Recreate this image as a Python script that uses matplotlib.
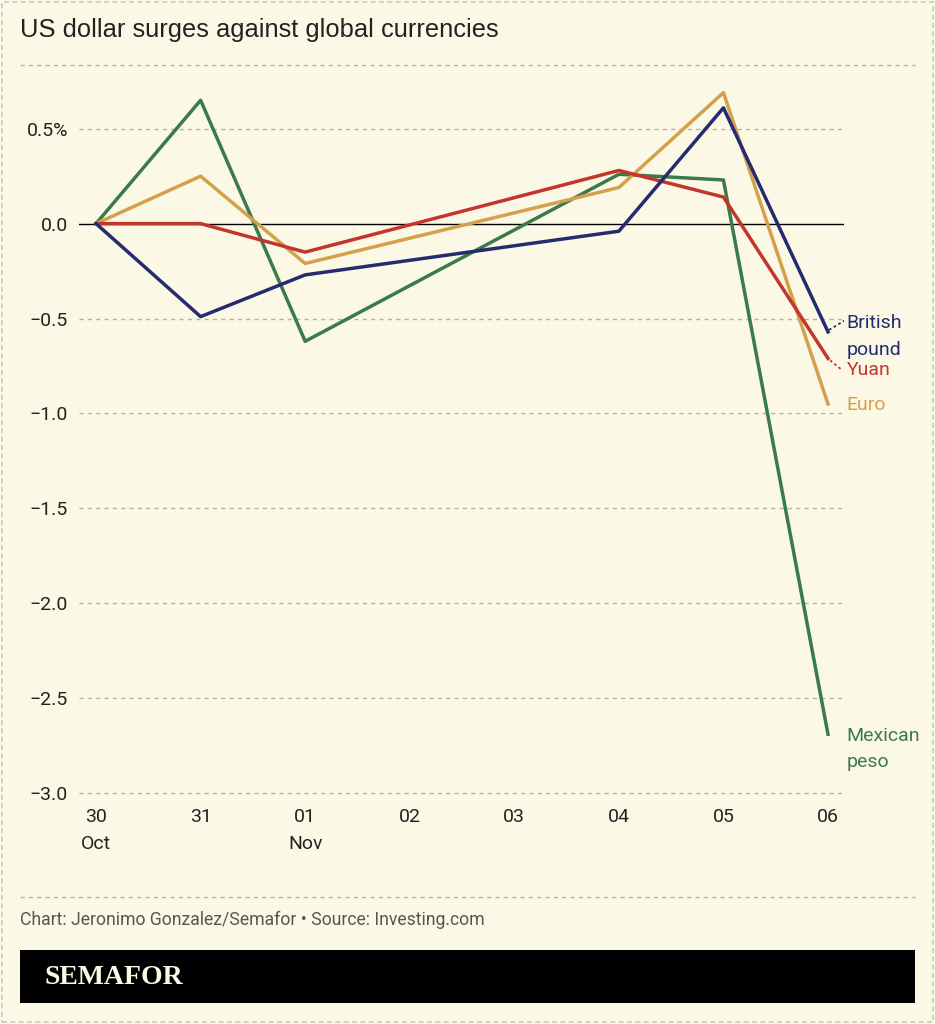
import matplotlib
matplotlib.use("Agg")
import matplotlib.pyplot as plt
import matplotlib.dates as mdates
from matplotlib.patches import Rectangle
import datetime as dt

# data (percent change vs US dollar)
dates = ["2024-10-30", "2024-10-31", "2024-11-01", "2024-11-04", "2024-11-05", "2024-11-06"]
mexican_peso = [0.0, 0.65, -0.62, 0.26, 0.23, -2.69]
euro = [0.0, 0.25, -0.21, 0.19, 0.69, -0.95]
yuan = [0.0, 0.0, -0.15, 0.28, 0.14, -0.71]
british_pound = [0.0, -0.49, -0.27, -0.04, 0.61, -0.57]

tick_days = ["2024-10-30", "2024-10-31", "2024-11-01", "2024-11-02",
             "2024-11-03", "2024-11-04", "2024-11-05", "2024-11-06"]
y_ticks = [0.5, 0.0, -0.5, -1.0, -1.5, -2.0, -2.5, -3.0]

BG = "#fbf9e5"
GREEN = "#3b7a4b"
GOLD = "#d4a04c"
RED = "#c4362b"
NAVY = "#252b6e"
GRID = "#b5b3a3"

narrow = ["Roboto", "DejaVu Sans"]

fig = plt.figure(figsize=(9.35, 10.24), dpi=100, facecolor=BG)
W, H = 935, 1024

def fx(px):
    return px / W

def fy(py):
    return 1 - py / H

# outer dashed border
fig.patches.append(Rectangle((0.002, 0.002), 0.996, 0.996, transform=fig.transFigure,
                             fill=False, ec="#c8c8c8", lw=1.2, ls=(0, (3, 2))))

fig.text(fx(20), fy(30), "US dollar surges against global currencies",
         fontsize=18.4, family=["Liberation Sans", "DejaVu Sans"], color="#222222",
         va="center", ha="left")
fig.add_artist(plt.Line2D([fx(20), fx(915)], [fy(65), fy(65)], transform=fig.transFigure,
                          color=GRID, lw=1, ls=(0, (3, 3))))

# axes placement
ymin, ymax = -3.0, 0.8
ax_left, ax_right = 79, 844
ax_top = 224 - ymax * 190.3
ax_bot = 795
ax = fig.add_axes([fx(ax_left), fy(ax_bot), fx(ax_right - ax_left), (ax_bot - ax_top) / H])
ax.set_facecolor("none")
for s in ax.spines.values():
    s.set_visible(False)

x = [mdates.datestr2num(d) for d in dates]
xt = [mdates.datestr2num(d) for d in tick_days]

ax.set_xlim(xt[0] - 0.163, xt[-1] + 0.153)
ax.set_ylim(ymin - 0.01, ymax)

for v in y_ticks:
    if v != 0:
        ax.axhline(v, color=GRID, lw=1, ls=(0, (3, 3)), zorder=1)
ax.axhline(0, color="black", lw=1, zorder=2)

ax.plot(x, mexican_peso, color=GREEN, lw=2.5, zorder=3)
ax.plot(x, euro, color=GOLD, lw=2.5, zorder=3)
ax.plot(x, yuan, color=RED, lw=2.5, zorder=3)
ax.plot(x, british_pound, color=NAVY, lw=2.5, zorder=4)

ax.set_yticks(y_ticks)
ylabels = []
for v in y_ticks:
    s = "%.1f" % v
    s = s.replace("-", "\u2212")
    if v == 0.5:
        s = s + "%"
    ylabels.append(s)
ax.set_yticklabels(ylabels)

xlabels = []
prev_month = None
for d in tick_days:
    t = dt.date.fromisoformat(d)
    lab = t.strftime("%d")
    if t.month != prev_month:
        lab += "\n" + t.strftime("%b")
        prev_month = t.month
    xlabels.append(lab)
ax.set_xticks(xt)
ax.set_xticklabels(xlabels, va="top", linespacing=1.7)
ax.tick_params(length=0, labelsize=14, colors="#222222", pad=9)
ax.tick_params(axis="y", pad=8)
for lab in ax.get_xticklabels() + ax.get_yticklabels():
    lab.set_family(narrow)

# end labels
lx = x[-1]
lab_kw = dict(fontsize=14, family=narrow, va="center", ha="left")
ax.text(lx + 0.18, -0.594, "British\npound", color=NAVY, linespacing=1.6, **lab_kw)
ax.plot([lx + 0.01, lx + 0.16], [british_pound[-1] + 0.01, -0.51], color=NAVY,
        lw=1.3, ls=(0, (1.5, 1.5)))
ax.text(lx + 0.18, -0.772, "Yuan", color=RED, **lab_kw)
ax.plot([lx + 0.02, lx + 0.12], [yuan[-1] - 0.01, -0.765], color=RED,
        lw=1.3, ls=(0, (1.5, 1.5)))
ax.text(lx + 0.18, -0.956, "Euro", color=GOLD, **lab_kw)
ax.text(lx + 0.18, -2.768, "Mexican\npeso", color=GREEN, linespacing=1.6, **lab_kw)

# footer
fig.add_artist(plt.Line2D([fx(20), fx(915)], [fy(897), fy(897)], transform=fig.transFigure,
                          color=GRID, lw=1, ls=(0, (3, 3))))
fig.text(fx(20), fy(920), "Chart: Jeronimo Gonzalez/Semafor \u2022 Source: Investing.com",
         fontsize=12.7, family=narrow, color="#555555", va="center", ha="left")
fig.patches.append(Rectangle((fx(20), fy(1003)), fx(895), (1003 - 950) / H,
                             transform=fig.transFigure, fc="black", ec="none"))
fig.text(fx(45), fy(977), "SEMAFOR", fontsize=20, family=["Liberation Serif", "DejaVu Serif"],
         weight="bold", color=BG, va="center", ha="left")

fig.savefig("out.png", dpi=100, facecolor=BG)
